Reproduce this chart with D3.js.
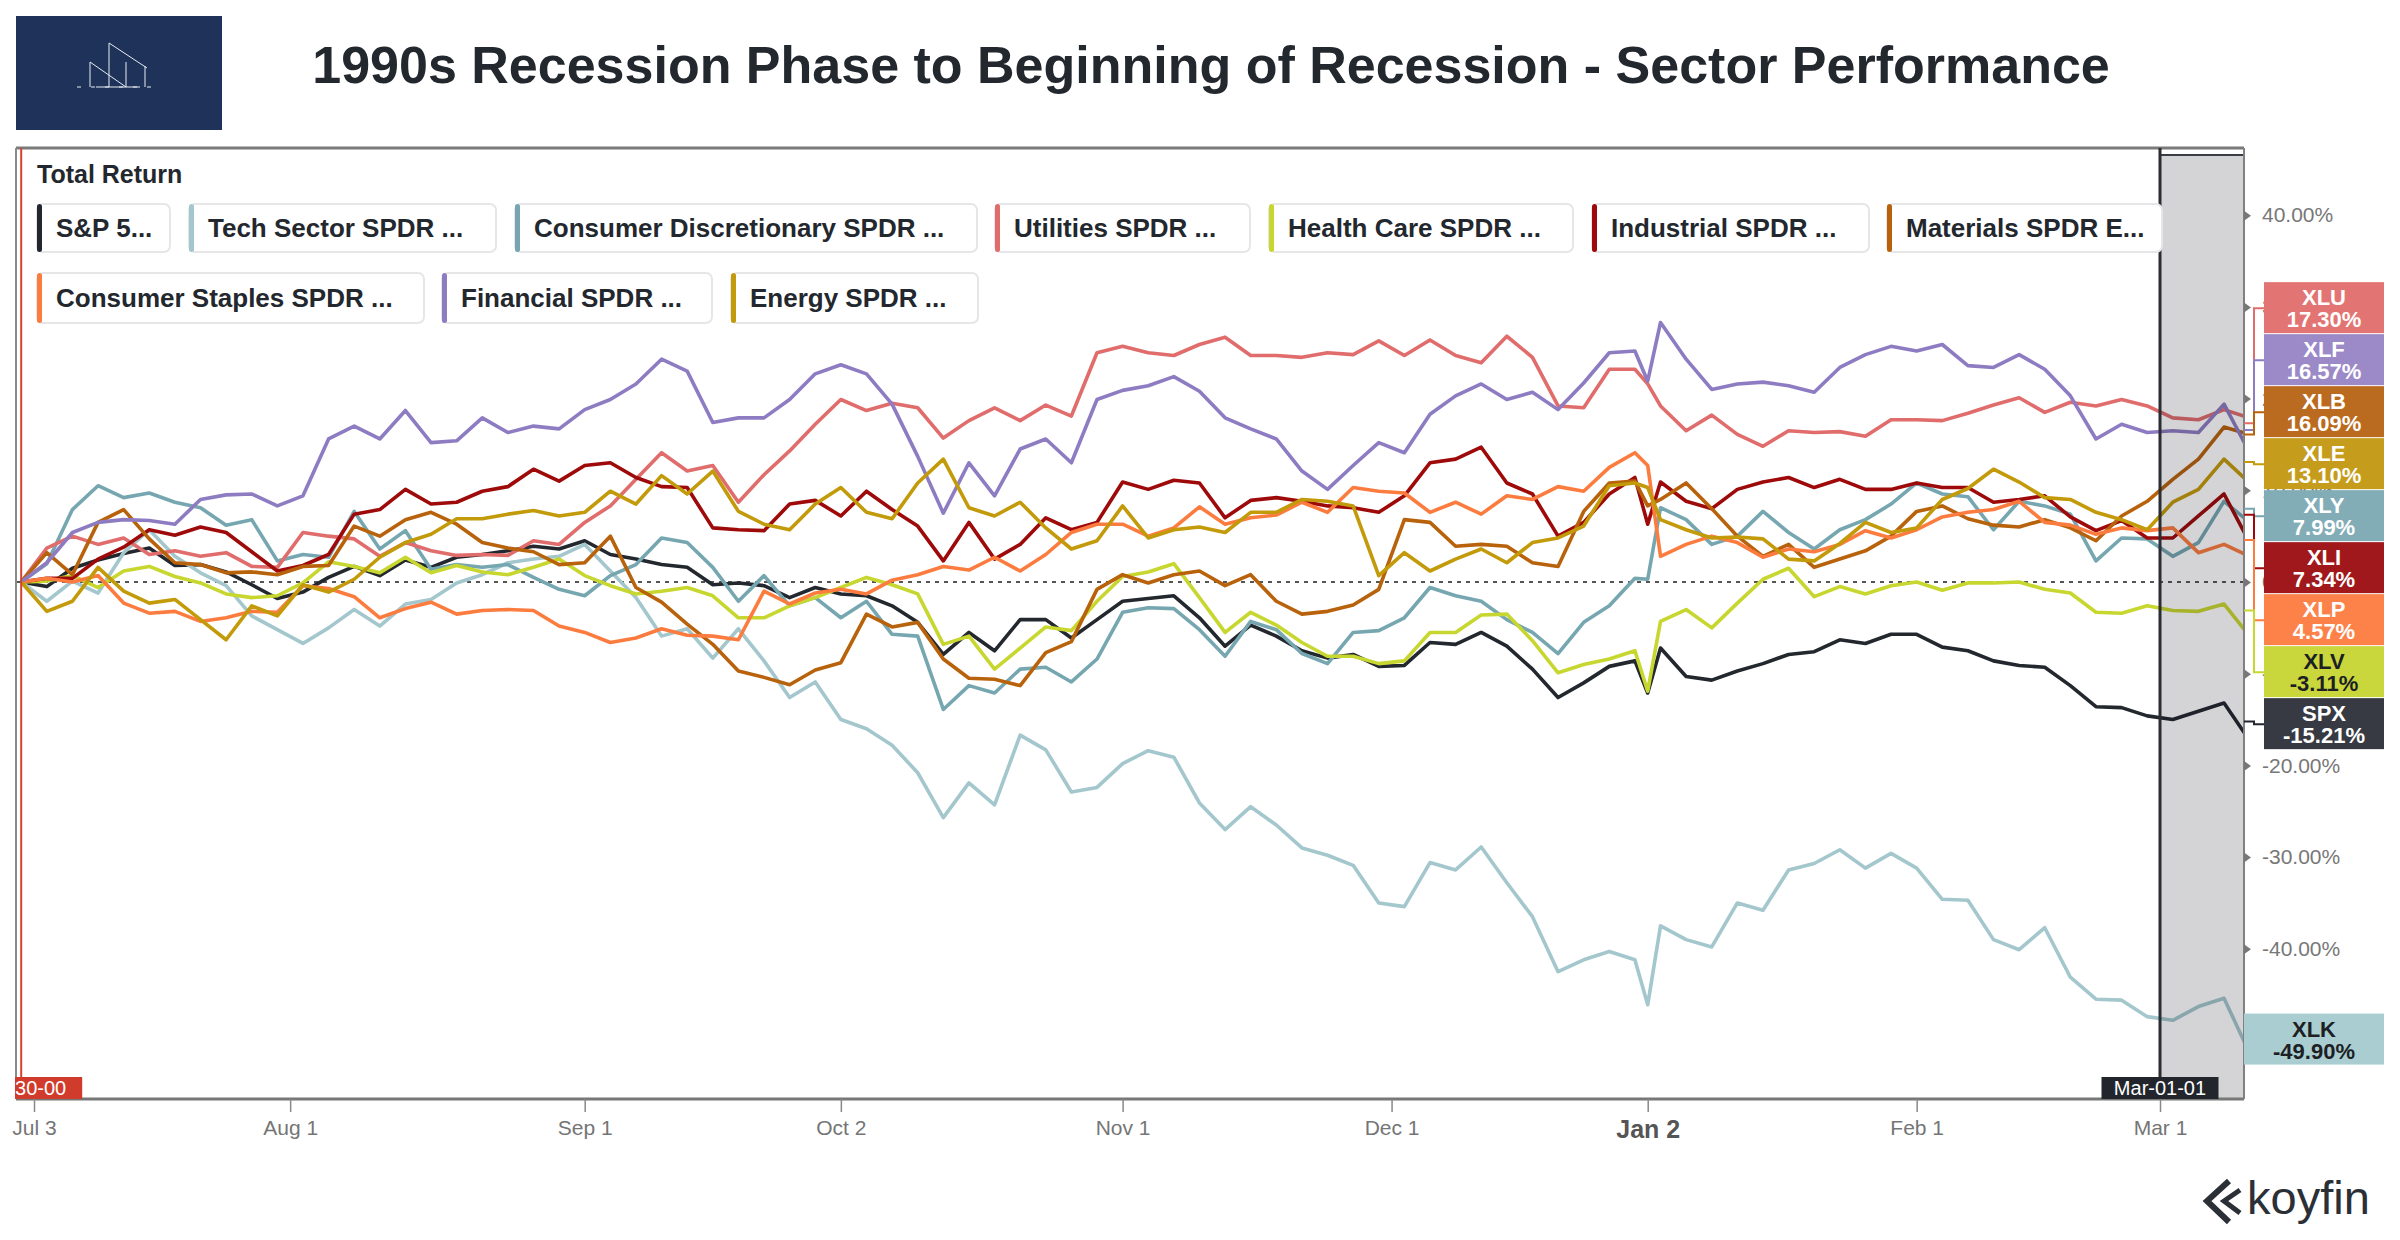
<!DOCTYPE html>
<html>
<head>
<meta charset="utf-8">
<script src="https://cdn.jsdelivr.net/npm/d3@7"></script>
<style>
  body { margin: 0; background: #fff; }
  text { font-family: "Liberation Sans", Arial, Helvetica, sans-serif; }
</style>
</head>
<body>
<div class="chart"></div>
<script>
// trading-day index (0 = Jul 3 2000), sampled every other session
const tradingDay = [-1,1,3,5,7,9,11,13,15,17,19,21,23,25,27,29,31,33,35,37,39,41,43,
  45,47,49,51,53,55,57,59,61,63,65,67,69,71,73,75,77,79,81,83,85,87,
  89,91,93,95,97,99,101,103,105,107,109,111,113,115,117,119,121,123,125,126,127,129,131,
  133,135,137,139,141,143,145,147,149,151,153,155,157,159,161,163,165,167,169,171,173];

// total return, %
const spx = [0,-0.5,1.5,2.4,3.1,3.7,1.8,1.9,1.1,-0.3,-1.8,-1.1,0.5,1.7,0.7,2.4,1.6,2.7,3.0,3.4,3.9,3.6,4.5,
  3.0,2.5,1.9,1.6,-0.3,-0.1,-0.4,-1.7,-0.6,-1.3,-1.5,-2.6,-4.4,-7.9,-5.5,-7.5,-4.1,-4.1,-6.1,-4.1,-2.1,-1.8,
  -1.5,-3.9,-7.0,-4.7,-5.9,-7.5,-8.3,-7.9,-9.2,-9.1,-6.6,-6.8,-5.5,-7.0,-9.5,-12.6,-11.0,-9.2,-8.6,-12.1,-7.2,-10.3,-10.7,
  -9.7,-8.9,-7.9,-7.6,-6.3,-6.7,-5.7,-5.7,-7.1,-7.5,-8.6,-9.1,-9.3,-11.3,-13.6,-13.7,-14.6,-15.0,-14.1,-13.2,-17.3];
const xlk = [0,-2.1,0.1,-1.2,3.2,5.7,2.8,1.0,-0.4,-3.7,-5.2,-6.7,-5.0,-3.0,-4.8,-2.4,-1.9,-0.1,0.8,2.1,2.5,2.8,4.1,
  1.2,-1.7,-5.9,-5.1,-8.3,-5.1,-8.6,-12.6,-10.9,-15.0,-16.0,-17.8,-20.8,-25.7,-21.9,-24.3,-16.7,-18.3,-22.9,-22.4,-19.8,-18.4,
  -19.1,-24.1,-27.0,-24.5,-26.5,-29.0,-29.8,-30.9,-35.0,-35.4,-30.6,-31.4,-28.9,-32.8,-36.5,-42.5,-41.2,-40.3,-41.2,-46.1,-37.5,-39.0,-39.8,
  -35.0,-35.8,-31.4,-30.7,-29.2,-31.2,-29.6,-31.2,-34.6,-34.7,-39.0,-40.1,-37.7,-43.1,-45.5,-45.6,-47.4,-47.8,-46.3,-45.4,-51.4];
const xly = [0,2.0,7.9,10.5,9.2,9.7,8.7,8.1,6.2,6.8,2.3,3.0,2.7,7.7,3.6,5.6,1.4,1.9,1.6,1.9,0.5,-0.8,-1.5,
  0.7,1.9,4.8,4.3,1.6,-2.1,0.7,-2.6,-1.7,-3.9,-2.1,-5.7,-5.9,-13.9,-11.3,-12.1,-9.5,-9.3,-10.9,-8.4,-3.3,-2.8,
  -2.9,-5.2,-8.1,-4.3,-5.2,-7.8,-8.9,-5.5,-5.3,-3.9,-0.6,-1.5,-2.1,-4.1,-5.5,-7.8,-4.4,-2.6,0.4,0.3,8.1,6.8,4.1,
  5.0,7.7,5.4,3.6,5.7,6.8,8.5,10.8,9.6,9.3,5.7,8.8,8.3,7.4,2.3,4.8,4.7,2.8,4.3,8.8,6.5];
const xlu = [0,3.7,5.0,4.1,4.8,3.0,3.4,2.8,3.2,1.7,1.6,5.4,5.0,4.7,2.8,4.3,3.4,2.9,3.0,2.9,4.5,4.1,6.5,
  8.3,11.2,14.1,12.1,12.7,8.7,11.7,14.3,17.2,19.9,18.7,19.5,19.0,15.7,17.6,19.0,17.6,19.3,18.1,25.0,25.7,25.0,
  24.7,25.9,26.7,24.7,24.7,24.5,25.0,24.8,26.3,24.7,26.4,24.7,23.9,26.8,24.5,19.2,19.0,23.2,23.2,21.6,19.2,16.5,18.2,
  16.1,14.8,16.5,16.3,16.4,15.9,17.7,17.7,17.6,18.4,19.3,20.1,18.5,19.6,19.2,19.9,19.2,17.9,17.7,18.8,17.9];
const xlv = [0,0.1,0.7,-0.6,1.2,1.7,0.6,-0.1,-1.3,-1.7,-1.5,-0.1,2.2,1.7,1.0,2.7,1.0,1.8,1.1,0.8,1.6,2.5,0.7,
  -0.4,-1.3,-1.0,-0.6,-1.5,-3.9,-3.9,-2.6,-1.7,-0.6,0.5,-0.3,-1.3,-6.8,-5.9,-9.5,-7.2,-4.9,-5.3,-2.1,0.6,1.1,
  2.0,-1.7,-5.5,-3.3,-4.7,-6.6,-8.1,-8.1,-8.9,-8.6,-5.5,-5.5,-3.6,-3.5,-6.4,-9.9,-9.0,-8.4,-7.5,-11.9,-4.3,-3.0,-5.0,
  -2.3,0.3,1.5,-1.6,-0.5,-1.3,-0.4,0.0,-0.9,-0.1,-0.1,0.0,-0.8,-1.2,-3.3,-3.4,-2.6,-3.1,-3.2,-2.4,-5.9];
const xli = [0,0.4,0.4,2.5,3.8,5.7,5.1,6.0,5.4,3.3,1.2,1.8,3.0,7.4,7.9,10.1,8.5,8.7,9.9,10.4,12.3,11.0,12.7,
  13.0,11.4,10.4,10.3,5.9,5.7,5.6,8.5,8.9,7.2,9.9,7.9,6.1,2.3,6.5,2.5,4.1,7.0,5.7,6.5,10.9,10.1,
  11.1,10.8,7.0,8.9,9.2,8.8,8.3,8.1,7.6,9.4,13.0,13.4,14.7,10.8,9.6,5.0,6.5,9.6,11.4,6.3,10.9,8.8,8.0,
  10.1,10.9,11.4,10.3,11.2,10.1,10.1,10.8,10.3,10.3,8.7,9.0,9.4,7.1,5.6,6.7,4.8,4.8,7.2,9.6,4.3];
const xlb = [0,3.2,0.8,6.5,7.9,4.7,2.1,1.9,1.0,1.1,0.8,1.7,1.8,6.1,5.0,6.8,7.6,6.3,4.3,3.7,3.3,1.9,2.1,
  5.0,-0.6,-2.2,-4.6,-6.8,-9.7,-10.4,-11.2,-9.6,-8.8,-3.5,-4.9,-4.4,-8.4,-10.5,-10.6,-11.3,-7.7,-6.5,-0.8,0.8,-0.1,
  0.8,1.2,-0.4,0.8,-2.1,-3.5,-3.2,-2.5,-0.8,6.8,6.5,3.9,4.1,3.9,2.1,1.7,7.7,10.8,11.0,8.3,9.0,10.8,8.0,
  5.0,2.8,4.1,1.6,2.5,3.4,5.0,7.7,8.3,6.9,6.2,6.0,6.8,5.9,4.5,7.2,8.8,11.2,13.4,16.9,16.1];
const xlp = [0,0.4,0.0,0.7,-2.3,-3.4,-3.2,-4.3,-3.9,-3.2,-3.3,-0.4,-0.7,-1.6,-3.9,-2.9,-2.2,-3.5,-3.1,-3.0,-3.1,-4.8,-5.5,
  -6.6,-6.1,-5.1,-5.8,-5.9,-6.3,-1.0,-2.4,-1.2,-0.8,-1.3,0.2,0.8,1.7,1.3,2.7,1.2,3.0,5.4,6.3,6.3,5.0,
  5.9,8.2,6.3,7.0,7.3,8.7,7.6,10.3,9.9,9.7,7.6,8.7,7.4,9.4,9.0,10.4,9.9,12.5,14.1,12.7,2.8,4.1,5.0,
  4.3,2.7,3.6,3.3,4.1,5.6,4.8,5.7,7.1,7.6,7.9,8.8,6.5,6.2,5.2,5.9,5.6,5.9,3.2,4.1,2.8];
const xlf = [0,2.1,5.4,6.5,6.8,6.7,6.3,9.0,9.5,9.6,8.3,9.4,15.6,17.0,15.6,18.7,15.2,15.4,17.9,16.3,17.0,16.7,18.8,
  19.9,21.6,24.3,23.0,17.4,17.9,17.9,19.9,22.7,23.7,22.7,19.4,13.7,7.5,13.0,9.4,14.5,15.6,13.0,19.9,20.9,21.4,
  22.4,20.8,17.9,16.7,15.6,12.1,10.1,12.7,15.2,14.1,18.3,20.3,21.6,19.9,20.7,18.8,21.7,25.0,25.2,21.9,28.3,24.3,21.0,
  21.6,21.8,21.4,20.7,23.4,24.8,25.7,25.2,25.9,23.6,23.4,24.8,23.2,20.3,15.6,17.2,16.3,16.5,16.3,19.4,14.1];
const xle = [0,-3.2,-2.1,1.6,-1.0,-2.3,-1.9,-4.1,-6.3,-2.6,-3.7,-0.3,-1.1,0.3,2.7,4.3,5.2,6.9,6.9,7.4,7.8,7.2,7.6,
  9.9,8.5,11.6,9.6,12.1,7.7,6.3,5.7,8.5,10.3,7.6,6.9,10.8,13.4,8.1,7.2,8.7,5.9,3.6,4.5,8.3,4.8,
  5.7,6.0,5.4,7.6,7.6,9.0,8.8,8.3,0.7,3.2,1.2,2.5,3.6,2.1,4.3,4.8,6.1,10.5,10.8,10.3,6.8,5.7,4.8,
  4.9,4.7,2.5,2.3,4.2,6.5,5.4,5.9,9.0,10.2,12.3,10.9,9.2,9.0,7.6,6.8,5.7,8.7,10.1,13.4,10.8];

const seriesKeys = ["SPX", "XLK", "XLY", "XLU", "XLV", "XLI", "XLB", "XLP", "XLF", "XLE"];
const seriesNames = ["S&P 5...", "Tech Sector SPDR ...", "Consumer Discretionary SPDR ...", "Utilities SPDR ...",
  "Health Care SPDR ...", "Industrial SPDR ...", "Materials SPDR E...", "Consumer Staples SPDR ...",
  "Financial SPDR ...", "Energy SPDR ..."];
const seriesValues = [spx, xlk, xly, xlu, xlv, xli, xlb, xlp, xlf, xle];

const tickLabels = ["Jul 3", "Aug 1", "Sep 1", "Oct 2", "Nov 1", "Dec 1", "Jan 2", "Feb 1", "Mar 1"];
const tickDays = [0, 20, 43, 63, 85, 106, 126, 147, 166];
const yTicks = [40, 30, 20, 10, 0, -10, -20, -30, -40, -50];

const endTickers = ["XLU", "XLF", "XLB", "XLE", "XLY", "XLI", "XLP", "XLV", "SPX", "XLK"];
const endValues = [17.30, 16.57, 16.09, 13.10, 7.99, 7.34, 4.57, -3.11, -15.21, -49.90];

// ---- styling / layout ----
const COLORS = {
    SPX: "#23272e", XLK: "#a3c7cc", XLY: "#76a7b1", XLU: "#e06c6c", XLV: "#c7d72f",
    XLI: "#9e0a0a", XLB: "#b8620c", XLP: "#fc7c3f", XLF: "#8e7cc3", XLE: "#c29a0a"
};
const BOX_COLORS = {
    SPX: "#373a42", XLK: "#a9cdd1", XLY: "#82adb7", XLU: "#e27573", XLV: "#c9d63c",
    XLI: "#a1181c", XLB: "#ba6b1f", XLP: "#fd8249", XLF: "#9b89c8", XLE: "#c59c1c"
};
const DARK_TEXT = ["XLV", "XLK"];
const LEGEND_ROWS = [
    {y: 204, h: 48, items: [[0, 37, 170], [1, 189, 496], [2, 515, 977], [3, 995, 1250], [4, 1269, 1573], [5, 1592, 1869], [6, 1887, 2162]]},
    {y: 273, h: 50, items: [[7, 37, 424], [8, 442, 712], [9, 731, 978]]}
];

const WIDTH = 2400, HEIGHT = 1240;
const PLOT = {left: 17, right: 2244, top: 148, bottom: 1099};
const TEXT_DARK = "#23272e";

const x = d3.scaleLinear().domain([0, 166]).range([34, 2160]);
const y = d3.scaleLinear().domain([-56.38, 47.33]).range([PLOT.bottom, PLOT.top]);

const svg = d3.select(".chart").append("svg")
    .attr("width", WIDTH)
    .attr("height", HEIGHT);

svg.append("defs").append("clipPath").attr("id", "plotclip")
    .append("rect")
    .attr("x", PLOT.left).attr("y", PLOT.top)
    .attr("width", PLOT.right - PLOT.left).attr("height", PLOT.bottom - PLOT.top);
svg.select("defs").append("clipPath").attr("id", "startclip")
    .append("rect").attr("x", 15).attr("y", 1070).attr("width", 200).attr("height", 40);

// logo
var logo = svg.append("g");
logo.append("rect").attr("x", 16).attr("y", 16).attr("width", 206).attr("height", 114).attr("fill", "#1f3259");
var logoLines = [[90, 62, 90, 87], [109, 43, 109, 87], [126, 62, 126, 87], [145, 66, 145, 87],
    [109, 43, 147, 68], [90, 62, 126, 87], [96, 87, 140, 87]];
logo.selectAll("line").data(logoLines).enter().append("line")
    .attr("x1", d => d[0]).attr("y1", d => d[1]).attr("x2", d => d[2]).attr("y2", d => d[3])
    .attr("stroke", "#e8ecf3").attr("stroke-width", 1);
logo.append("line").attr("x1", 77).attr("x2", 159).attr("y1", 87).attr("y2", 87)
    .attr("stroke", "#e8ecf3").attr("stroke-width", 1).attr("stroke-dasharray", "4,10");

// title
svg.append("text")
    .attr("x", 1211).attr("y", 83)
    .attr("text-anchor", "middle")
    .style("font-size", "52px").style("font-weight", "bold")
    .attr("fill", TEXT_DARK)
    .text("1990s Recession Phase to Beginning of Recession - Sector Performance");

// frame
svg.append("line").attr("x1", 16).attr("x2", PLOT.right).attr("y1", PLOT.top).attr("y2", PLOT.top)
    .attr("stroke", "#7a7a7a").attr("stroke-width", 3);
svg.append("line").attr("x1", 16).attr("x2", 16).attr("y1", PLOT.top).attr("y2", PLOT.bottom)
    .attr("stroke", "#8a8a8a").attr("stroke-width", 2);

// zero line
svg.append("line")
    .attr("x1", PLOT.left).attr("x2", PLOT.right).attr("y1", y(0)).attr("y2", y(0))
    .attr("stroke", "#555").attr("stroke-width", 2).attr("stroke-dasharray", "4,5");

// series lines
var line = d3.line()
    .x((d, i) => x(tradingDay[i]))
    .y(d => y(d));

var lines = svg.append("g").attr("clip-path", "url(#plotclip)");
seriesKeys.forEach(function (key, k) {
    lines.append("path")
        .attr("d", line(seriesValues[k]))
        .style("fill", "none")
        .style("stroke", COLORS[key])
        .style("stroke-width", "3.6")
        .style("stroke-linejoin", "round");
});

// shaded recession window
svg.append("rect")
    .attr("x", x(166)).attr("y", 155)
    .attr("width", PLOT.right - x(166)).attr("height", PLOT.bottom - 155)
    .attr("fill", "#10101a").attr("fill-opacity", 0.18);
svg.append("line").attr("x1", x(166)).attr("x2", PLOT.right).attr("y1", 155).attr("y2", 155)
    .attr("stroke", "#3a3d44").attr("stroke-width", 2);
svg.append("line").attr("x1", x(166)).attr("x2", x(166)).attr("y1", PLOT.top).attr("y2", PLOT.bottom)
    .attr("stroke", "#2a2d33").attr("stroke-width", 3);

// start marker
svg.append("line").attr("x1", x(-1)).attr("x2", x(-1)).attr("y1", PLOT.top).attr("y2", PLOT.bottom)
    .attr("stroke", "#d6412f").attr("stroke-width", 2);

// legend
svg.append("text").attr("x", 37).attr("y", 183)
    .style("font-size", "25px").style("font-weight", "bold").attr("fill", TEXT_DARK)
    .text("Total Return");

LEGEND_ROWS.forEach(function (row) {
    row.items.forEach(function (it) {
        var k = it[0], x0 = it[1], x1 = it[2];
        var g = svg.append("g");
        g.append("rect").attr("x", x0).attr("y", row.y).attr("width", x1 - x0).attr("height", row.h)
            .attr("rx", 6).attr("fill", "#fff").attr("stroke", "#e6e6e8").attr("stroke-width", 2);
        g.append("rect").attr("x", x0).attr("y", row.y).attr("width", 5).attr("height", row.h)
            .attr("rx", 2.5).attr("fill", COLORS[seriesKeys[k]]);
        g.append("text").attr("x", x0 + 19).attr("y", row.y + row.h / 2 + 9)
            .style("font-size", "26px").style("font-weight", "bold").attr("fill", TEXT_DARK)
            .text(seriesNames[k]);
    });
});

// x axis
svg.append("line").attr("x1", 16).attr("x2", PLOT.right).attr("y1", PLOT.bottom).attr("y2", PLOT.bottom)
    .attr("stroke", "#777").attr("stroke-width", 3);
var xAxis = d3.axisBottom(x).tickValues(tickDays)
    .tickFormat((d, i) => tickLabels[i]).tickSize(13).tickPadding(8);
var gx = svg.append("g")
    .attr("class", "x axis")
    .attr("transform", "translate(0," + PLOT.bottom + ")")
    .call(xAxis);
gx.select(".domain").remove();
gx.selectAll(".tick line").attr("stroke", "#888").attr("stroke-width", 1.5);
gx.selectAll(".tick text")
    .style("font-size", "21px").attr("fill", "#757575")
    .style("font-family", "'Liberation Sans', Arial, sans-serif");
gx.selectAll(".tick text").filter(d => d === 126)
    .style("font-size", "25px").style("font-weight", "bold").attr("fill", "#555");

// y axis (right)
svg.append("line").attr("x1", PLOT.right).attr("x2", PLOT.right).attr("y1", PLOT.top).attr("y2", PLOT.bottom)
    .attr("stroke", "#808080").attr("stroke-width", 2);
var yAxis = d3.axisRight(y).tickValues(yTicks)
    .tickFormat(d => d.toFixed(2) + "%").tickSize(0).tickPadding(18);
var gy = svg.append("g")
    .attr("class", "y axis")
    .attr("transform", "translate(" + PLOT.right + ",0)")
    .call(yAxis);
gy.select(".domain").remove();
gy.selectAll(".tick text")
    .style("font-size", "21px").attr("fill", "#777")
    .style("font-family", "'Liberation Sans', Arial, sans-serif");
gy.selectAll(".tick").append("path").attr("d", "M0,-5L7,0L0,5Z").attr("fill", "#777");

// date markers on the x axis
function dateTag(cx, w, fill, label, clip) {
    var g = svg.append("g");
    if (clip) g.attr("clip-path", "url(#" + clip + ")");
    g.append("rect").attr("x", cx - w / 2).attr("y", 1077).attr("width", w).attr("height", 22).attr("fill", fill);
    g.append("text").attr("x", cx).attr("y", 1095).attr("text-anchor", "middle")
        .style("font-size", "20px").attr("fill", "#fff").text(label);
}
dateTag(x(-1), 122, "#d03b2c", "Jun-30-00", "startclip");
dateTag(x(166), 117, "#22262c", "Mar-01-01", null);

// end value labels with simple collision clustering
var BOX_H = 52;
var clusters = endTickers.map((t, i) => ({items: [{t: t, v: endValues[i], ideal: y(endValues[i])}], center: y(endValues[i])}));
var merged = true;
while (merged) {
    merged = false;
    for (var i = 0; i < clusters.length - 1; i++) {
        var a = clusters[i], b = clusters[i + 1];
        if (a.center + a.items.length * BOX_H / 2 > b.center - b.items.length * BOX_H / 2) {
            var items = a.items.concat(b.items);
            clusters.splice(i, 2, {items: items, center: d3.mean(items, d => d.ideal)});
            merged = true;
            break;
        }
    }
}
clusters.forEach(function (c) {
    var top = c.center - c.items.length * BOX_H / 2;
    c.items.forEach(function (it, j) {
        var by = top + j * BOX_H;
        var mid = by + BOX_H / 2;
        var alone = c.items.length === 1;
        var bx = alone ? PLOT.right : 2264;
        var g = svg.append("g");
        if (!alone) {
            g.append("path")
                .attr("d", "M" + PLOT.right + "," + it.ideal + "H2254V" + mid + "H2264")
                .attr("fill", "none").attr("stroke", COLORS[it.t]).attr("stroke-width", 2);
        }
        g.append("rect").attr("x", bx).attr("y", by).attr("width", 2384 - bx).attr("height", BOX_H - 1)
            .attr("fill", BOX_COLORS[it.t]);
        var tc = DARK_TEXT.indexOf(it.t) >= 0 ? "#1d1f24" : "#fff";
        var cx = (bx + 2384) / 2;
        g.append("text").attr("x", cx).attr("y", by + 23).attr("text-anchor", "middle")
            .style("font-size", "22px").style("font-weight", "bold").attr("fill", tc).text(it.t);
        g.append("text").attr("x", cx).attr("y", by + 45).attr("text-anchor", "middle")
            .style("font-size", "22px").style("font-weight", "bold").attr("fill", tc)
            .text(it.v.toFixed(2) + "%");
    });
});

// koyfin mark
var brand = svg.append("g");
brand.append("path").attr("d", "M2229,1181L2207,1201L2229,1222")
    .attr("fill", "none").attr("stroke", "#2b2f36").attr("stroke-width", 6).attr("stroke-linejoin", "miter");
brand.append("path").attr("d", "M2240,1190L2224,1201L2240,1213")
    .attr("fill", "none").attr("stroke", "#2b2f36").attr("stroke-width", 5);
brand.append("text").attr("x", 2247).attr("y", 1214)
    .style("font-size", "47px").attr("fill", "#2b2f36").text("koyfin");
</script>
</body>
</html>
